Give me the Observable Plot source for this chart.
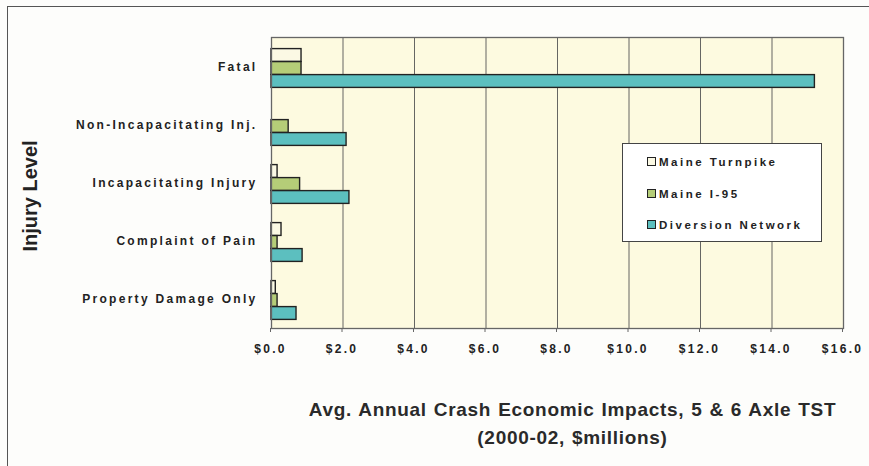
<!DOCTYPE html>
<html>
<head>
<meta charset="utf-8">
<script src="https://cdn.jsdelivr.net/npm/d3@7"></script>
<script src="https://cdn.jsdelivr.net/npm/@observablehq/plot@0.6"></script>
<style>
  html, body { margin: 0; padding: 0; background: #fdfdfb; }
  body { width: 869px; height: 466px; position: relative; overflow: hidden; font-family: "Liberation Sans", Arial, sans-serif; }
  #frame { position: absolute; left: 7px; top: 6px; width: 880px; height: 480px; border-left: 1.5px solid #555; border-top: 1.5px solid #555; }
  #chart { position: absolute; left: 0; top: 0; }
  #ylab { position: absolute; left: 30px; top: 196px; transform: translate(-50%, -50%) rotate(-90deg); font-size: 20px; font-weight: bold; color: #222; white-space: nowrap; }
  #xlab { position: absolute; left: 270px; width: 605px; top: 396px; text-align: center; font-size: 19px; font-weight: bold; color: #2a2a2a; line-height: 28px; letter-spacing: 0.7px; word-spacing: 1px; }
  #legend { position: absolute; left: 622px; top: 143px; width: 200px; height: 99px; background: #fff; border: 1.2px solid #444; box-sizing: border-box; }
  .item { position: absolute; left: 24px; font-size: 11.5px; font-weight: bold; letter-spacing: 2.5px; color: #222; white-space: nowrap; }
  .sw { display: inline-block; width: 7px; height: 7px; border: 1.5px solid #222; margin-right: 3px; vertical-align: 0px; }
</style>
</head>
<body>
<div id="frame"></div>
<div id="chart"></div>
<div id="ylab">Injury Level</div>
<div id="xlab">Avg. Annual Crash Economic Impacts, 5 &amp; 6 Axle TST<br>(2000-02, $millions)</div>
<div id="legend"></div>
<script>
const categories = ["Fatal", "Non-Incapacitating Inj.", "Incapacitating Injury", "Complaint of Pain", "Property Damage Only"];
const seriesNames = ["Maine Turnpike", "Maine I-95", "Diversion Network"];
const turnpike = [0.84, 0.0, 0.17, 0.28, 0.12];
const i95 = [0.84, 0.48, 0.80, 0.17, 0.17];
const diversion = [15.2, 2.10, 2.18, 0.87, 0.70];
const xTicks = [0, 2, 4, 6, 8, 10, 12, 14, 16];
const colors = ["#fbf9e4", "#b5cd78", "#5cbfbf"];

const seriesValues = [turnpike, i95, diversion];
const W = 869, H = 370, mL = 271, mR = 26, mT = 37, mB = 42;
const bw = (H - mT - mB) / categories.length;
const barH = 13;
const off = (bw - 3 * barH) / 2 + 1;

const marks = [
  Plot.frame({fill: "#fdfae0", stroke: null}),
  Plot.gridX(xTicks.slice(1, -1), {stroke: "#555", strokeOpacity: 0.9, strokeWidth: 1})
];
seriesValues.forEach((vals, i) => {
  const rows = categories.map((c, j) => ({category: c, series: seriesNames[i], value: vals[j]}));
  marks.push(Plot.barX(rows, {
    x: "value", y: "category",
    fill: colors[i], stroke: "#222", strokeWidth: 1.4,
    insetTop: off + i * barH, insetBottom: bw - off - (i + 1) * barH
  }));
});
marks.push(Plot.frame({stroke: "#666", strokeWidth: 1.3}));
marks.push(Plot.axisX({ticks: xTicks, tickFormat: d3.format("$.1f"), tickSize: 4, tickPadding: 12, label: null, fill: "#222", stroke: "#666", dx: -1}));
marks.push(Plot.axisY({tickSize: 0, tickPadding: 14, label: null, fill: "#222"}));

const chart = Plot.plot({
  width: W, height: H,
  marginLeft: mL, marginRight: mR, marginTop: mT, marginBottom: mB,
  style: {background: "transparent", fontFamily: "'Liberation Sans', Arial, sans-serif", fontSize: "12px", fontWeight: "bold", letterSpacing: "2.3px", color: "#222", overflow: "visible"},
  x: {domain: [0, 16]},
  y: {domain: categories, padding: 0},
  marks
});
document.getElementById("chart").appendChild(chart);

const legend = document.getElementById("legend");
seriesNames.forEach((name, i) => {
  const d = document.createElement("div");
  d.className = "item";
  d.style.top = (12 + i * 31.5) + "px";
  d.innerHTML = `<span class="sw" style="background:${colors[i]}"></span>${name}`;
  legend.appendChild(d);
});
</script>
</body>
</html>
